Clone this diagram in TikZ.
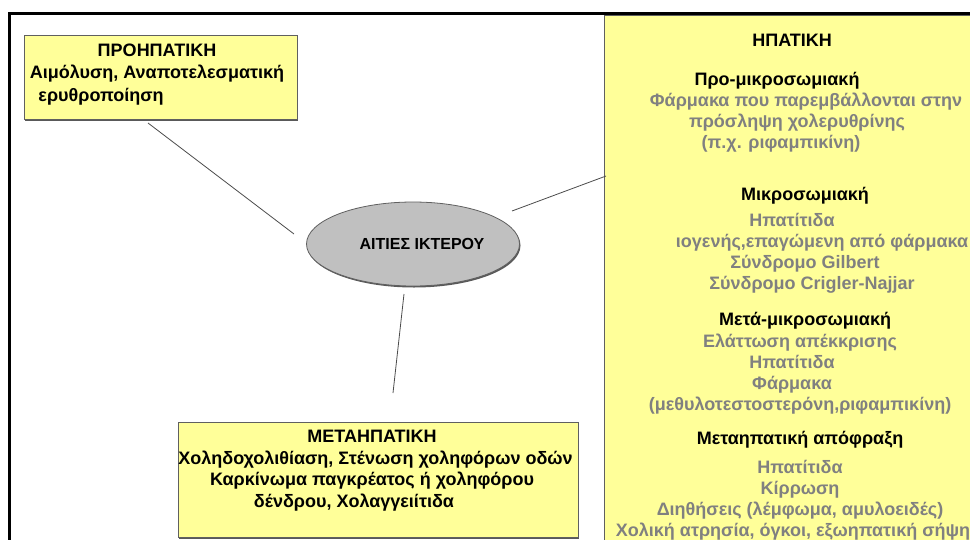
\documentclass[tikz,border=0pt]{standalone}
\usepackage{fontspec}
\setmainfont{Liberation Sans}
\usetikzlibrary{shapes.geometric,shadows}

\definecolor{boxyellow}{RGB}{255,255,153}
\definecolor{ovalgray}{RGB}{192,192,192}
\definecolor{causegray}{RGB}{128,128,128}
\definecolor{edgegray}{RGB}{96,96,96}

\newcommand{\nudge}[2]{\hspace*{#1pt}#2\hspace*{-#1pt}}
\newcommand{\gr}[1]{\textcolor{causegray}{#1}}

\tikzset{
	box/.style={draw=edgegray, fill=boxyellow, line width=0.8pt, inner sep=0pt,
		drop shadow={shadow xshift=1pt, shadow yshift=-1.5pt, fill=gray!70!black, opacity=1}},
	blocktext/.style={font=\fontsize{18}{21}\selectfont\bfseries, align=center,
		inner sep=0pt, anchor=north, execute at begin node=\strut},
	link/.style={draw=black!70, line width=0.8pt},
}

\begin{document}
\begin{tikzpicture}[x=1pt, y=-1pt]
	\clip (0,0) rectangle (970,539);
	\fill[white] (0,0) rectangle (970,539);
	\draw[line width=3pt] (9.5,545) -- (9.5,13.5) -- (975,13.5);

	\node[box, minimum width=273pt, minimum height=84pt] (pre) at (160.5,77) {};
	\node[box, anchor=north west, minimum width=380pt, minimum height=540pt] (hep) at (604,15) {};
	\node[box, minimum width=400pt, minimum height=115pt] (post) at (378,479.5) {};

	\coordinate (pre end) at (148,123);
	\coordinate (oval nw) at (294,234);
	\coordinate (oval ne) at (512,211);
	\coordinate (hep end) at (606,176);
	\coordinate (oval s) at (404,294);
	\coordinate (post end) at (393,393);
	\draw[link] (pre end) -- (oval nw);
	\draw[link] (oval ne) -- (hep end);
	\draw[link] (oval s) -- (post end);

	\node[ellipse, draw=edgegray, fill=ovalgray, line width=0.8pt, inner sep=0pt,
		minimum width=213pt, minimum height=84pt,
		drop shadow={shadow xshift=1pt, shadow yshift=-1.5pt, fill=gray!70!black, opacity=1},
		font=\fontsize{16}{18}\selectfont\bfseries] (cause) at (413,244) {\nudge{9}{ΑΙΤΙΕΣ ΙΚΤΕΡΟΥ}};

	\node[blocktext] (pre text) at (157,43.5) {ΠΡΟΗΠΑΤΙΚΗ\\[1.5pt] Αιμόλυση, Αναποτελεσματική\\[1.5pt] \nudge{-56}{ερυθροποίηση}};

	\node[blocktext] (hep title) at (792,31.5) {ΗΠΑΤΙΚΗ};
	\node[blocktext] (hep pre) at (790,72.5) {\nudge{-13}{Προ-μικροσωμιακή}\\
		\gr{\nudge{16}{Φάρμακα που παρεμβάλλονται στην}}\\
		\gr{\nudge{7}{πρόσληψη χολερυθρίνης}}\\
		\gr{\nudge{-9}{(π.χ. ριφαμπικίνη)}}};
	\node[blocktext] (hep micro) at (800,187.5) {\nudge{5}{Μικροσωμιακή}\\[5pt]
		\gr{\nudge{-8}{Ηπατίτιδα}}\\
		\gr{\nudge{22}{ιογενής,επαγώμενη από φάρμακα}}\\
		\gr{\nudge{5}{Σύνδρομο Gilbert}}\\
		\gr{\nudge{12}{Σύνδρομο Crigler-Najjar}}};
	\node[blocktext] (hep post) at (800,312) {\nudge{5}{Μετά-μικροσωμιακή}\\[1pt]
		\gr{Ελάττωση απέκκρισης}\\
		\gr{\nudge{-8}{Ηπατίτιδα}}\\
		\gr{\nudge{-8}{Φάρμακα}}\\
		\gr{(μεθυλοτεστοστερόνη,ριφαμπικίνη)}};
	\node[blocktext] (hep block) at (800,431.5) {Μεταηπατική απόφραξη\\[7.5pt]
		\gr{Ηπατίτιδα}\\
		\gr{Κίρρωση}\\
		\gr{Διηθήσεις (λέμφωμα, αμυλοειδές)}\\
		\gr{\nudge{-7}{Χολική ατρησία, όγκοι, εξωηπατική σήψη}}};

	\node[blocktext] (post text) at (372,430) {ΜΕΤΑΗΠΑΤΙΚΗ\\[0.5pt]
		\nudge{7}{Χοληδοχολιθίαση, Στένωση χοληφόρων οδών}\\[0.5pt]
		Καρκίνωμα παγκρέατος ή χοληφόρου\\[0.5pt]
		\nudge{-18}{δένδρου, Χολαγγειίτιδα}};
\end{tikzpicture}
\end{document}
